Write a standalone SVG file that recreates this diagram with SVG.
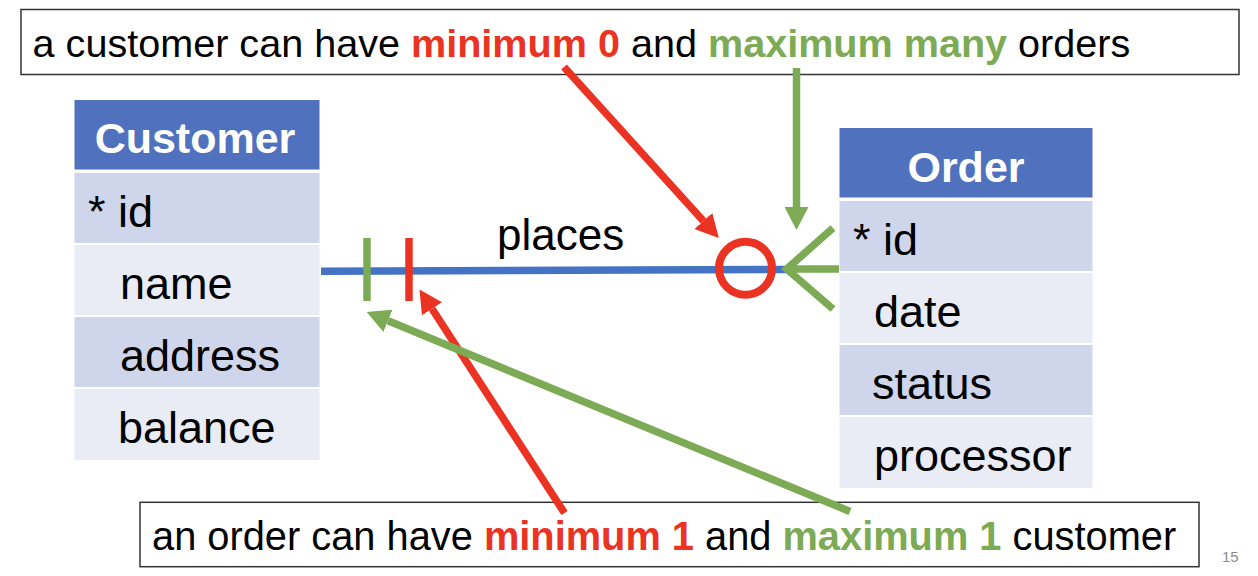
<svg xmlns="http://www.w3.org/2000/svg" width="1258" height="576" viewBox="0 0 1258 576">
  <style>
    text { font-family: "Liberation Sans", Arial, sans-serif; }
    .hdr { fill: #4F71BE; }
    .dark { fill: #CFD5EA; }
    .light { fill: #E9EBF5; }
    .htxt { font-size: 43px; font-weight: bold; fill: #FFFFFF; text-anchor: middle; }
    .rtxt { font-size: 45px; fill: #000000; }
    .note { fill: #FFFFFF; stroke: #333333; stroke-width: 1.5; }
    .ntxt { fill: #000000; }
    .red { fill: #EA3323; font-weight: bold; }
    .grn { fill: #7DAA55; font-weight: bold; }
    .rline { stroke: #EA3323; stroke-width: 7.5; fill: none; }
    .gline { stroke: #7DAA55; stroke-width: 7.5; fill: none; }
    .bline { stroke: #4472C4; stroke-width: 7.5; fill: none; }
  </style>
  <defs>
    <marker id="ahRed" viewBox="0 0 23 24" refX="0" refY="12" markerWidth="23" markerHeight="24" markerUnits="userSpaceOnUse" orient="auto">
      <path d="M0,0 L23,12 L0,24 z" fill="#EA3323"/>
    </marker>
    <marker id="ahGrn" viewBox="0 0 23 24" refX="0" refY="12" markerWidth="23" markerHeight="24" markerUnits="userSpaceOnUse" orient="auto">
      <path d="M0,0 L23,12 L0,24 z" fill="#7DAA55"/>
    </marker>
  </defs>

  <rect x="0" y="0" width="1258" height="576" fill="#FFFFFF"/>

  <g id="customer">
    <rect class="hdr" x="74.5" y="100" width="245" height="69.5"/>
    <rect class="dark" x="74.5" y="173" width="245" height="70"/>
    <rect class="light" x="74.5" y="245" width="245" height="70"/>
    <rect class="dark" x="74.5" y="317" width="245" height="70"/>
    <rect class="light" x="74.5" y="389" width="245" height="71"/>
    <text class="htxt" x="195" y="153">Customer</text>
    <text class="rtxt" x="88" y="227">* id</text>
    <text class="rtxt" x="120" y="299">name</text>
    <text class="rtxt" x="120" y="371">address</text>
    <text class="rtxt" x="118" y="443">balance</text>
  </g>

  <g id="order">
    <rect class="hdr" x="839.5" y="128" width="253" height="69.5"/>
    <rect class="dark" x="839.5" y="201" width="253" height="70"/>
    <rect class="light" x="839.5" y="273" width="253" height="70"/>
    <rect class="dark" x="839.5" y="345" width="253" height="70"/>
    <rect class="light" x="839.5" y="417" width="253" height="71"/>
    <text class="htxt" x="966" y="182">Order</text>
    <text class="rtxt" x="853" y="255">* id</text>
    <text class="rtxt" x="874" y="327">date</text>
    <text class="rtxt" x="872" y="399">status</text>
    <text class="rtxt" x="874" y="471">processor</text>
  </g>

  <g id="note-top">
    <rect class="note" x="21" y="9.5" width="1218" height="65"/>
    <text class="ntxt" x="32.6" y="57" font-size="39.6">a customer can have <tspan class="red">minimum 0</tspan> and <tspan class="grn">maximum many</tspan> orders</text>
  </g>

  <g id="note-bottom">
    <rect class="note" x="140" y="502.3" width="1059" height="64.4"/>
    <text class="ntxt" x="152" y="550" font-size="39.8">an order can have <tspan class="red">minimum 1</tspan> and <tspan class="grn">maximum 1</tspan> customer</text>
  </g>

  <g id="connectors">
    <path class="bline" d="M321,271.3 L787,269.5"/>
    <text x="497" y="250" font-size="44" fill="#000000">places</text>
    <path class="gline" d="M367,238 L367,301"/>
    <path class="rline" d="M409,238 L409,301"/>
    <circle cx="745.5" cy="268.3" r="26.5" fill="none" stroke="#EA3323" stroke-width="8"/>
    <path class="gline" d="M833,228 L786.7,269 L833,309 M786.7,269 L839,269" stroke-width="8"/>
    <path class="rline" d="M564,67 L703.4,221" marker-end="url(#ahRed)"/>
    <path class="gline" d="M796.5,68 L796.5,207" marker-end="url(#ahGrn)"/>
    <path class="rline" d="M564.5,513 L432,308.8" marker-end="url(#ahRed)"/>
    <path class="gline" d="M850,511.5 L388,320.8" marker-end="url(#ahGrn)"/>
  </g>

  <g id="page-number">
    <text x="1222" y="562" font-size="15" fill="#8C8C8C">15</text>
  </g>
</svg>
